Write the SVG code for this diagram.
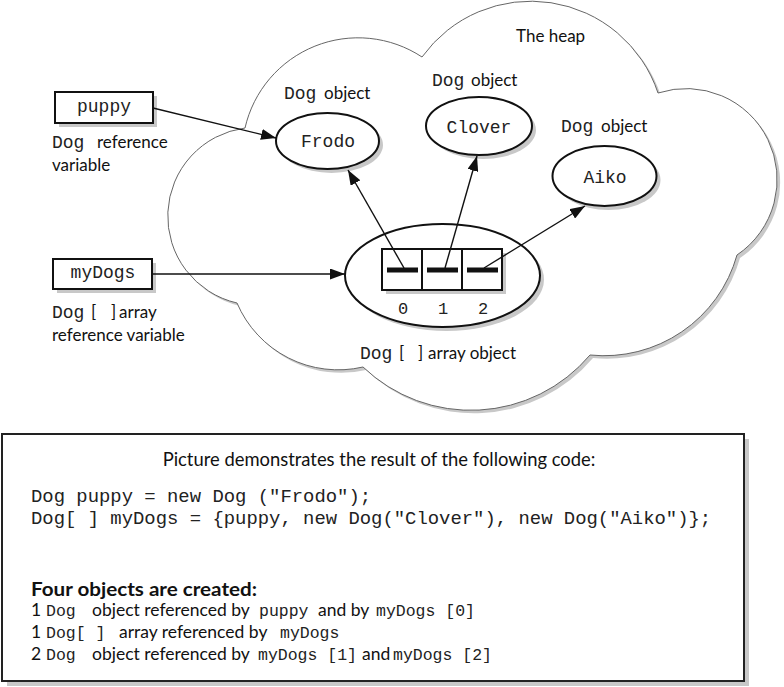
<svg xmlns="http://www.w3.org/2000/svg" width="784" height="687" viewBox="0 0 784 687">
<defs>
<style>
.sans{font-family:Lato,"Liberation Sans",sans-serif;font-size:17px;fill:#111}
.mono{font-family:"Liberation Mono","Courier New",monospace;font-size:18px;fill:#222}
.lm{font-family:"Liberation Mono","Courier New",monospace;font-size:17px;fill:#222}
.li{font-family:"Liberation Mono","Courier New",monospace;font-size:16.5px;fill:#222}
.shadow{fill:#c8c8c8;stroke:none}
.node{fill:#fff;stroke:#111;stroke-width:2}
.conn{stroke:#111;stroke-width:1.4;fill:none;marker-end:url(#ah)}
</style>
<marker id="ah" markerUnits="userSpaceOnUse" markerWidth="15" markerHeight="11" refX="15" refY="5.5" orient="auto"><path d="M0,0 L15,5.5 L0,11 z" fill="#111"/></marker>
<path id="cloudpath" d="M245,128 A116,116 0 0 1 422,57 A134,134 0 0 1 658,93 A91,91 0 0 1 737,255 A138,138 0 0 1 590,355 A156,156 0 0 1 363,367 A110,110 0 0 1 237,303 A89,89 0 0 1 245,128 Z"/>
</defs>
<rect width="784" height="687" fill="#fff"/>
<g id="heap">
<use href="#cloudpath" class="shadow" transform="translate(3,3)"/>
<use href="#cloudpath" fill="#fff" stroke="#666" stroke-width="1"/>
<text x="516" y="42" class="sans">The heap</text>
</g>
<g id="puppy">
<rect x="59" y="96" width="98" height="31" class="shadow"/>
<rect x="55" y="92" width="98" height="31" class="node"/>
<text x="104" y="112" class="mono" text-anchor="middle">puppy</text>
<text x="52" y="148" class="mono">Dog</text>
<text x="97" y="148" class="sans">reference</text>
<text x="52" y="171" class="sans">variable</text>
</g>
<g id="myDogs">
<rect x="57" y="263" width="99" height="30" class="shadow"/>
<rect x="53" y="259" width="99" height="30" class="node"/>
<text x="103" y="278" class="mono" text-anchor="middle">myDogs</text>
<text x="52" y="318" class="mono">Dog</text>
<text x="91" y="318" class="sans">[</text>
<text x="111" y="318" class="sans">]</text>
<text x="119" y="318" class="sans">array</text>
<text x="52" y="341" class="sans">reference variable</text>
</g>
<g id="frodo">
<ellipse cx="331.5" cy="145" rx="51.5" ry="28" class="shadow"/>
<ellipse cx="327.5" cy="141" rx="51.5" ry="28" class="node"/>
<text x="328" y="147" class="mono" text-anchor="middle">Frodo</text>
<text x="284" y="99" class="mono">Dog</text>
<text x="324" y="99" class="sans">object</text>
</g>
<g id="clover">
<ellipse cx="483" cy="130" rx="53" ry="29" class="shadow"/>
<ellipse cx="479" cy="126" rx="53" ry="29" class="node"/>
<text x="479" y="133" class="mono" text-anchor="middle">Clover</text>
<text x="432" y="86" class="mono">Dog</text>
<text x="471" y="86" class="sans">object</text>
</g>
<g id="aiko">
<ellipse cx="608.5" cy="180" rx="52" ry="30" class="shadow"/>
<ellipse cx="604.5" cy="176" rx="52" ry="30" class="node"/>
<text x="605" y="183" class="mono" text-anchor="middle">Aiko</text>
<text x="561" y="132" class="mono">Dog</text>
<text x="601" y="132" class="sans">object</text>
</g>
<g id="array">
<ellipse cx="446.5" cy="279.5" rx="97.5" ry="51.5" class="shadow"/>
<ellipse cx="442.5" cy="275.5" rx="97.5" ry="51.5" class="node"/>
<rect x="386" y="253" width="120" height="41" class="shadow"/>
<rect x="382" y="249" width="120" height="41" class="node"/>
<line x1="422" y1="249" x2="422" y2="290" stroke="#111" stroke-width="2"/>
<line x1="462" y1="249" x2="462" y2="290" stroke="#111" stroke-width="2"/>
<rect x="387" y="267.5" width="31" height="5" fill="#111"/>
<rect x="427" y="267.5" width="31" height="5" fill="#111"/>
<rect x="467" y="267.5" width="31" height="5" fill="#111"/>
<text x="403" y="314" class="lm" text-anchor="middle">0</text>
<text x="443" y="314" class="lm" text-anchor="middle">1</text>
<text x="483" y="314" class="lm" text-anchor="middle">2</text>
<text x="360" y="359" class="mono">Dog</text>
<text x="399" y="359" class="sans">[</text>
<text x="418" y="359" class="sans">]</text>
<text x="428" y="359" class="sans">array object</text>
</g>
<g id="connectors">
<line x1="153" y1="108" x2="276" y2="138" class="conn"/>
<line x1="152" y1="274" x2="345" y2="274" class="conn"/>
<line x1="404" y1="268" x2="348" y2="170" class="conn"/>
<line x1="445" y1="268" x2="477" y2="156" class="conn"/>
<line x1="484" y1="268" x2="585" y2="206" class="conn"/>
</g>
<g id="code-box">
<rect x="7" y="439" width="742" height="247" class="shadow"/>
<rect x="2" y="434" width="742" height="247" fill="#fff" stroke="#222" stroke-width="2"/>
<text x="379" y="466" class="sans" text-anchor="middle" style="font-size:18.4px">Picture demonstrates the result of the following code:</text>
<text x="31" y="502" class="mono" style="font-size:18.9px">Dog puppy = new Dog ("Frodo");</text>
<text x="31" y="524" class="mono" style="font-size:18.9px">Dog[ ] myDogs = {puppy, new Dog("Clover"), new Dog("Aiko")};</text>
<text x="31" y="596" class="sans" font-weight="bold" style="font-size:19px" textLength="226" lengthAdjust="spacingAndGlyphs">Four objects are created:</text>
<text y="616" class="sans" style="font-size:17.5px"><tspan x="31">1</tspan><tspan x="46" class="li">Dog</tspan><tspan x="92">object referenced by</tspan><tspan x="259" class="li">puppy</tspan><tspan x="318">and by</tspan><tspan x="376" class="li">myDogs [0]</tspan></text>
<text y="638" class="sans" style="font-size:17.5px"><tspan x="31">1</tspan><tspan x="46" class="li">Dog[ ]</tspan><tspan x="119">array referenced by</tspan><tspan x="280" class="li">myDogs</tspan></text>
<text y="660" class="sans" style="font-size:17.5px"><tspan x="31">2</tspan><tspan x="46" class="li">Dog</tspan><tspan x="92">object referenced by</tspan><tspan x="258" class="li">myDogs [1]</tspan><tspan x="362">and</tspan><tspan x="393" class="li">myDogs [2]</tspan></text>
</g>
</svg>
